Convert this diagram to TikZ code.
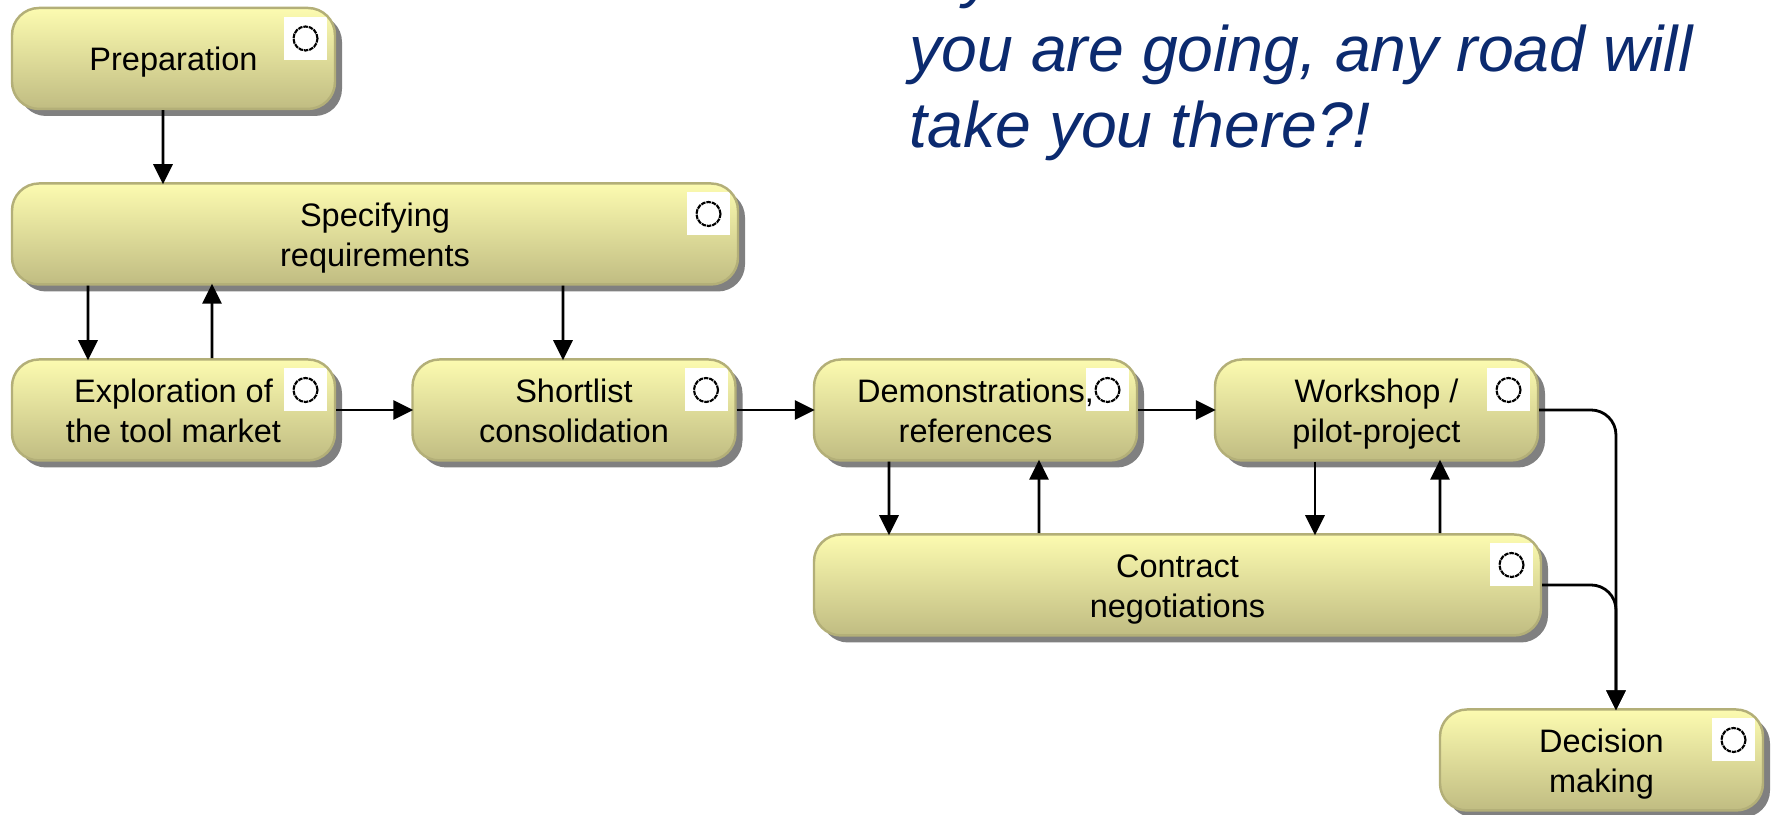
\documentclass[tikz,border=0pt]{standalone}
\usepackage{fontspec}
\setmainfont{Liberation Sans}
\usetikzlibrary{arrows.meta,shadows}
\definecolor{boxtop}{HTML}{FCFBB0}
\definecolor{boxbottom}{HTML}{C0BC82}
\definecolor{boxline}{HTML}{B3AF78}
\definecolor{quotecolor}{HTML}{0B2A6F}
\newcommand{\lift}{\rule{0pt}{10.4pt}}
\tikzset{
activity/.style={draw=boxline, line width=.7pt, rounded corners=.27cm, top color=boxtop, bottom color=boxbottom, minimum width=3.23cm, minimum height=1.01cm, inner sep=0pt, align=center, font=\fontsize{9.25}{11.2}\selectfont, execute at end node=\strut, drop shadow={shadow xshift=.07cm, shadow yshift=-.07cm, fill=black!50, opacity=1},
path picture={
\fill[white, sharp corners] ([xshift=-.51cm,yshift=-.52cm]path picture bounding box.north east) rectangle ([xshift=-.08cm,yshift=-.09cm]path picture bounding box.north east);
\draw[black, line width=.6pt, dash pattern=on 1.3pt off .25pt, sharp corners] ([xshift=-.295cm,yshift=-.305cm]path picture bounding box.north east) circle (.12cm);}},
flow/.style={-{Triangle[width=.19cm,length=.2cm]}, line width=.8pt, shorten >=-.02cm},
merge/.style={flow, rounded corners=.25cm}
}
\begin{document}
\begin{tikzpicture}
\useasboundingbox (0,0) rectangle (17.71,8.15);
\begin{scope}
\clip (0,0) rectangle (17.71,8.15);
\node[text=quotecolor, font=\fontsize{18.3}{21.6}\selectfont\itshape, anchor=north west, align=left, inner sep=0pt] (quote) at (9.09,8.665) {If you don't know where\\you are going, any road will\\take you there?!};
\end{scope}
% boxes
\node[activity] (prep) at (1.735,7.565) {\lift Preparation};
\node[activity, minimum width=7.26cm] (spec) at (3.75,5.81) {\lift Specifying\\requirements};
\node[activity] (expl) at (1.735,4.05) {\lift Exploration of\\the tool market};
\node[activity] (short) at (5.74,4.05) {\lift Shortlist\\consolidation};
\node[activity] (demo) at (9.755,4.05) {\lift Demonstrations,\\references};
\node[activity] (work) at (13.765,4.05) {\lift Workshop /\\pilot-project};
\node[activity, minimum width=7.27cm] (contract) at (11.775,2.3) {\lift Contract\\negotiations};
\node[activity] (dec) at (16.015,.55) {\lift Decision\\making};
% arrows
\draw[flow] ([xshift=-.105cm]prep.south)--([xshift=-2.12cm]spec.north);
\draw[flow] ([xshift=-2.87cm]spec.south)--([xshift=-.855cm]expl.north);
\draw[flow] ([xshift=.385cm]expl.north)--([xshift=-1.63cm]spec.south);
\draw[flow] ([xshift=1.88cm]spec.south)--([xshift=-.11cm]short.north);
\draw[flow] (expl.east)--(short.west);
\draw[flow] (short.east)--(demo.west);
\draw[flow] (demo.east)--(work.west);
\draw[flow] ([xshift=-.865cm]demo.south)--([xshift=-2.885cm]contract.north);
\draw[flow] ([xshift=-1.385cm]contract.north)--([xshift=.635cm]demo.south);
\draw[flow] ([xshift=-.615cm]work.south)--([xshift=1.375cm]contract.north);
\draw[flow] ([xshift=2.625cm]contract.north)--([xshift=.635cm]work.south);
\draw[merge] (work.east)-|([xshift=.145cm]dec.north);
\draw[merge] (contract.east)-|([xshift=.145cm]dec.north);
\end{tikzpicture}
\end{document}
